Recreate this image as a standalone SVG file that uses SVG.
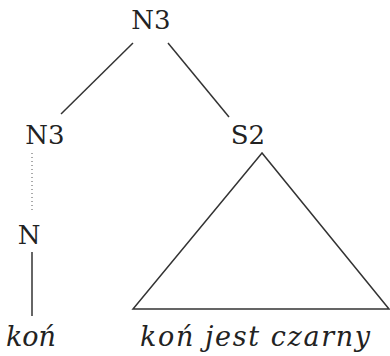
<svg xmlns="http://www.w3.org/2000/svg" width="390" height="356" viewBox="0 0 390 356">
<style>
text{font-family:'DejaVu Serif',serif;font-size:26px;fill:#222;text-anchor:middle}
.i{font-style:italic;font-size:27px}
.e{stroke:#333;stroke-width:1.5;fill:none}
.d{stroke:#555;stroke-width:1;stroke-dasharray:1 3;fill:none}
</style>
<rect width="390" height="356" fill="#fff"/>
<g id="connectors">
<line class="e" x1="133" y1="43" x2="61" y2="114"/>
<line class="e" x1="168" y1="43" x2="229" y2="117"/>
<line class="d" x1="32" y1="153" x2="32" y2="211"/>
<line class="e" x1="32" y1="252" x2="32" y2="316"/>
<polygon class="e" points="262,153 133,309 389,309"/>
</g>
<g id="n3-top"><text x="151" y="29">N3</text></g>
<g id="n3-left"><text x="45" y="144">N3</text></g>
<g id="s2"><text x="248" y="144">S2</text></g>
<g id="n"><text x="29" y="244">N</text></g>
<g id="kon"><text class="i" x="31" y="346">koń</text></g>
<g id="kon-jest-czarny"><text class="i" x="255" y="346" textLength="230" lengthAdjust="spacing">koń jest czarny</text></g>
</svg>
